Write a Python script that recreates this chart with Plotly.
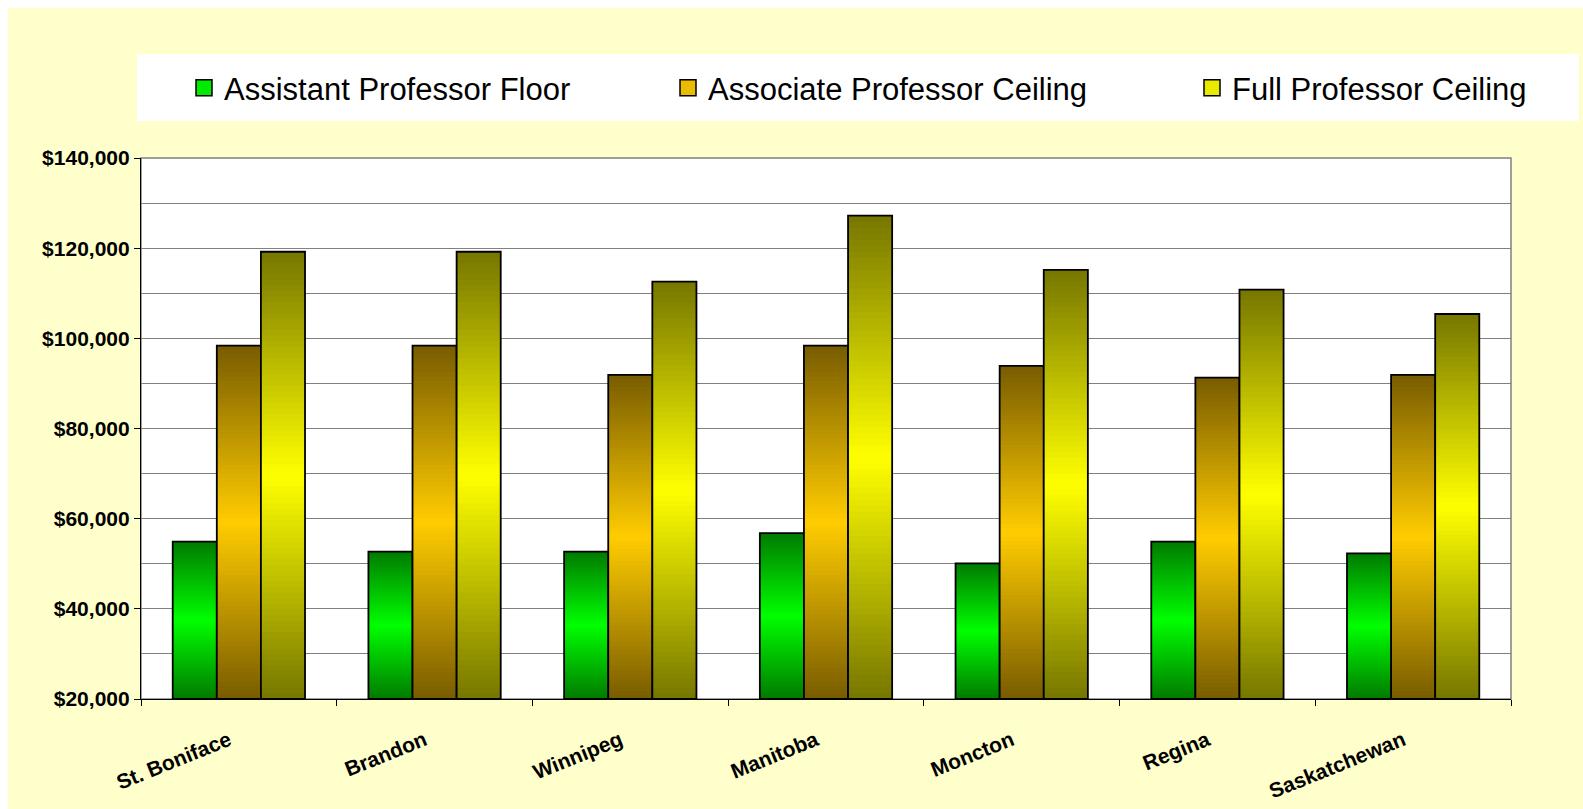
import numpy as np
import plotly.graph_objects as go

# ---------------- data ----------------
categories = ["St. Boniface", "Brandon", "Winnipeg", "Manitoba", "Moncton", "Regina", "Saskatchewan"]
asst_floor = [54900, 52700, 52700, 56800, 50100, 54900, 52300]
assoc_ceiling = [98400, 98400, 91900, 98400, 93900, 91300, 91900]
full_ceiling = [119200, 119200, 112600, 127200, 115200, 110800, 105400]
series_names = ["Assistant Professor Floor", "Associate Professor Ceiling", "Full Professor Ceiling"]
y_ticks = [20000, 40000, 60000, 80000, 100000, 120000, 140000]
y_tick_labels = ["$20,000", "$40,000", "$60,000", "$80,000", "$100,000", "$120,000", "$140,000"]

# ---------------- styling ----------------
AXIS_MIN, AXIS_MAX = 20000, 140000
FIG_W, FIG_H = 1583, 809
M_L, M_R, M_T, M_B = 141, 72, 158, 110
PW = FIG_W - M_L - M_R
PH = FIG_H - M_T - M_B
FONT = "Liberation Sans, Arial, sans-serif"


def px_x(px):
    return (px - M_L) / PW


def px_y(py):
    return (FIG_H - M_B - py) / PH


def hex2rgb(h):
    h = h.lstrip("#")
    return [int(h[i:i + 2], 16) for i in (0, 2, 4)]


def mix(c1, c2, t):
    a, b = hex2rgb(c1), hex2rgb(c2)
    return "rgb({},{},{})".format(*[round(a[j] + (b[j] - a[j]) * t) for j in range(3)])


palette = [("#007A00", "#00FF00"), ("#785C00", "#FFCC00"), ("#767600", "#FFFF00")]
all_values = [asst_floor, assoc_ceiling, full_ceiling]

fig = go.Figure()
N = 80
for i, (name, vals, (dark, bright)) in enumerate(zip(series_names, all_values, palette)):
    v = np.array(vals, dtype=float)
    h = v - AXIS_MIN
    legend_id = "legend" if i == 0 else f"legend{i + 1}"
    # gradient slices
    for k in range(N):
        t = (k + 0.5) / N
        s = 1 - abs(2 * t - 1)
        col = mix(dark, bright, s)
        b = AXIS_MIN + h * k / N
        top = np.minimum(AXIS_MIN + h * (k + 1.7) / N, v)
        fig.add_trace(go.Bar(
            x=categories, y=top - b, base=b, offsetgroup=str(i),
            marker=dict(color=col, line=dict(width=0)),
            showlegend=False, hoverinfo="skip"))
    # outline
    fig.add_trace(go.Bar(
        x=categories, y=h, base=AXIS_MIN, offsetgroup=str(i), name=name,
        marker=dict(color="rgba(0,0,0,0)", line=dict(color="black", width=1.8)),
        showlegend=False, customdata=v,
        hovertemplate="%{x}<br>$%{customdata:,.0f}<extra>" + name + "</extra>"))
    # legend entry
    fig.add_trace(go.Scatter(
        x=categories, y=[None] * len(categories), mode="markers", name=name,
        marker=dict(symbol="square", size=16, color=mix(dark, bright, 0.85),
                    line=dict(color="black", width=1.5)),
        legend=legend_id, hoverinfo="skip"))

legend_text_left = [224, 708, 1232]
legend_common = dict(orientation="h", xanchor="left", yanchor="middle", y=px_y(88),
                     bgcolor="rgba(0,0,0,0)", borderwidth=0, itemwidth=30,
                     font=dict(family=FONT, size=31, color="black"))
legends = {}
for i, tx in enumerate(legend_text_left):
    key = "legend" if i == 0 else f"legend{i + 1}"
    legends[key] = dict(legend_common, x=px_x(tx - 40))

shapes = [
    # plot border (grey)
    dict(type="rect", xref="paper", yref="paper", x0=0, x1=1, y0=0, y1=1,
         line=dict(color="#808080", width=1.5), fillcolor="rgba(0,0,0,0)", layer="below"),
    # legend box
    dict(type="rect", xref="paper", yref="paper", x0=px_x(137), x1=px_x(1579), y0=px_y(121), y1=px_y(54),
         line=dict(width=0), fillcolor="white", layer="below"),
    # white outer strips
    dict(type="rect", xref="paper", yref="paper", x0=px_x(0), x1=px_x(FIG_W), y0=px_y(8), y1=px_y(0),
         line=dict(width=0), fillcolor="white", layer="below"),
    dict(type="rect", xref="paper", yref="paper", x0=px_x(0), x1=px_x(8), y0=px_y(FIG_H), y1=px_y(0),
         line=dict(width=0), fillcolor="white", layer="below"),
]

fig.update_layout(
    width=FIG_W, height=FIG_H,
    margin=dict(l=M_L, r=M_R, t=M_T, b=M_B, autoexpand=False),
    paper_bgcolor="#FFFFCC", plot_bgcolor="white",
    barmode="group", bargap=0.324, bargroupgap=0,
    font=dict(family=FONT, color="black"),
    shapes=shapes,
    xaxis=dict(type="category", tickson="boundaries", ticks="outside", ticklen=6, tickcolor="black",
               showline=True, linecolor="black", linewidth=1.2, showgrid=False,
               tickangle=-22, ticklabelstandoff=20, ticklabelshift=-10,
               tickfont=dict(family=FONT, size=21, color="black", weight="bold")),
    yaxis=dict(range=[AXIS_MIN, AXIS_MAX], tickmode="array", tickvals=y_ticks, ticktext=y_tick_labels,
               ticks="outside", ticklen=6, tickcolor="black",
               showline=True, linecolor="black", linewidth=1.2, zeroline=False,
               showgrid=True, gridcolor="#808080", gridwidth=1,
               minor=dict(tick0=AXIS_MIN, dtick=10000, showgrid=True, gridcolor="#808080", gridwidth=1),
               tickfont=dict(family=FONT, size=21, color="black", weight="bold")),
    **legends,
)

fig.write_html("out.html")
